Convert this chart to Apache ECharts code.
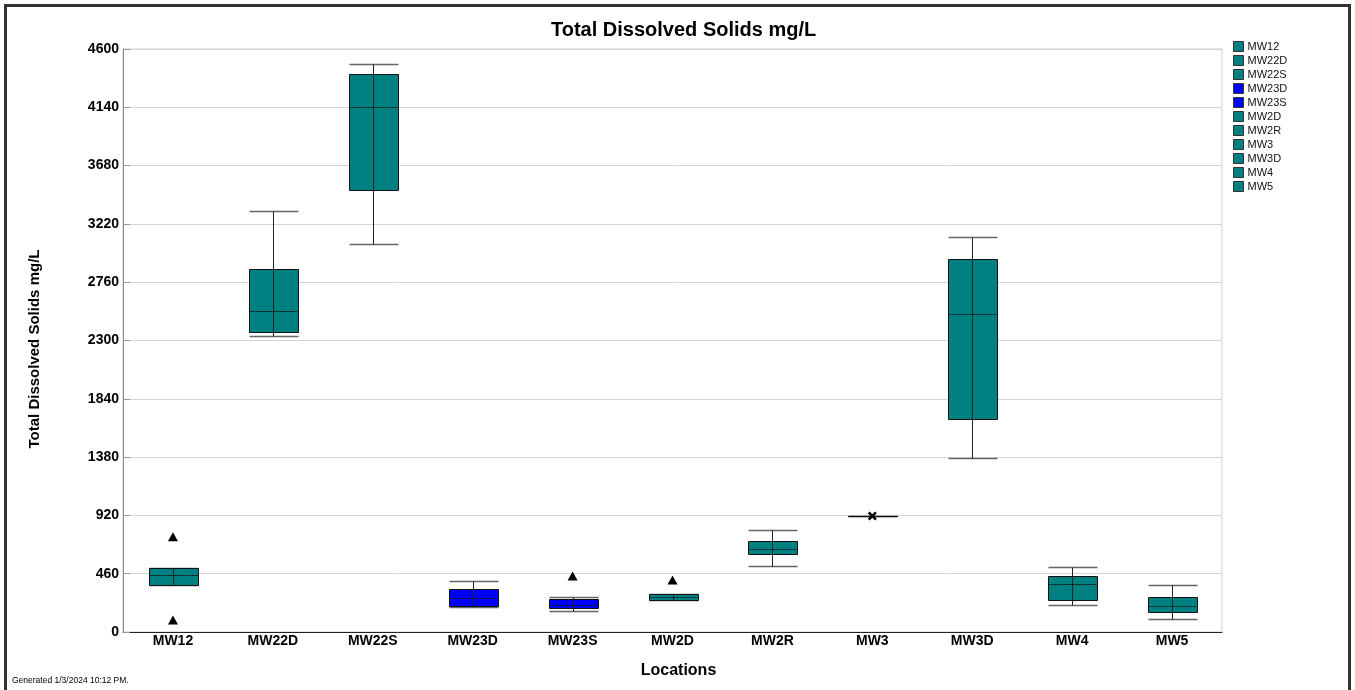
<!DOCTYPE html>
<html>
<head>
<meta charset="utf-8">
<title>Total Dissolved Solids mg/L</title>
<script src="https://cdn.jsdelivr.net/npm/echarts@6/dist/echarts.min.js"></script>
<style>
  html, body { margin: 0; padding: 0; background: #fff; }
  #chart { width: 1355px; height: 690px; }
</style>
</head>
<body>
<div id="chart"></div>
<script>
// Monitoring wells along the x axis
const categories = ['MW12', 'MW22D', 'MW22S', 'MW23D', 'MW23S', 'MW2D', 'MW2R', 'MW3', 'MW3D', 'MW4', 'MW5'];

// Box statistics per well (mg/L)
const lowWhisker  = [371, 2333, 3064, 195, 166, 250, 523, 915, 1373, 211, 103];
const q1          = [371, 2365, 3485, 208, 187, 250, 613, 915, 1678, 250, 155];
const median      = [450, 2533, 4140, 266, 213, 274, 652, 915, 2512, 376, 205];
const q3          = [505, 2862, 4405, 337, 260, 297, 718, 915, 2941, 444, 276];
const highWhisker = [505, 3322, 4481, 405, 274, 297, 802, 915, 3117, 515, 373];

// Outliers (triangles)
const outlierWells  = ['MW12', 'MW12', 'MW23S', 'MW2D'];
const outlierValues = [752, 95, 442, 410];

// Wells with a single observation (cross marker)
const singleWells  = ['MW3'];
const singleValues = [915];

// Y axis ticks
const yMin = 0, yMax = 4600, yStep = 460;

// Fill colours per well
const TEAL = '#008080', BLUE = '#0000ff';
const boxColors = [TEAL, TEAL, TEAL, BLUE, BLUE, TEAL, TEAL, TEAL, TEAL, TEAL, TEAL];

const FONT = 'Arial, "Liberation Sans", sans-serif';

function px(v) { return Math.round(v) + 0.5; }

function renderBox(params, api) {
  const idx = api.value(0);
  const halfW = api.size([1, 0])[0] * 0.25;
  const cx = px(api.coord([idx, 0])[0]);
  const yLow = px(api.coord([idx, api.value(1)])[1]);
  const yQ1 = px(api.coord([idx, api.value(2)])[1]);
  const yMed = px(api.coord([idx, api.value(3)])[1]);
  const yQ3 = px(api.coord([idx, api.value(4)])[1]);
  const yHigh = px(api.coord([idx, api.value(5)])[1]);
  const left = Math.round(cx - halfW) + 0.5;
  const right = Math.round(cx + halfW) + 0.5;
  const fill = api.visual('color');
  return {
    type: 'group',
    children: [
      { type: 'line', shape: { x1: left, y1: yHigh, x2: right, y2: yHigh },
        style: { stroke: '#666', lineWidth: 1.5 } },
      { type: 'line', shape: { x1: left, y1: yLow, x2: right, y2: yLow },
        style: { stroke: '#666', lineWidth: 1.5 } },
      { type: 'rect', shape: { x: left, y: yQ3, width: right - left, height: Math.max(yQ1 - yQ3, 0) },
        style: { fill: fill, stroke: '#111', lineWidth: 1 } },
      { type: 'line', shape: { x1: cx, y1: yHigh, x2: cx, y2: yLow },
        style: { stroke: '#222', lineWidth: 1 } },
      { type: 'line', shape: { x1: left, y1: yMed, x2: right, y2: yMed },
        style: { stroke: '#111', lineWidth: 1, lineDash: [2, 1] } }
    ]
  };
}

const boxSeries = categories.map(function (name, i) {
  return {
    name: name,
    type: 'custom',
    renderItem: renderBox,
    itemStyle: { color: boxColors[i] },
    encode: { x: 0, y: [1, 2, 3, 4, 5] },
    data: [[i, lowWhisker[i], q1[i], median[i], q3[i], highWhisker[i]]],
    z: 3
  };
});

const crossPath = 'path://M0,2 L2,0 L5,3 L8,0 L10,2 L7,5 L10,8 L8,10 L5,7 L2,10 L0,8 L3,5 Z';

const chart = echarts.init(document.getElementById('chart'));
chart.setOption({
  animation: false,
  backgroundColor: '#fff',
  textStyle: { fontFamily: FONT },
  title: {
    text: 'Total Dissolved Solids mg/L',
    left: 546,
    top: 15,
    textStyle: { fontSize: 20, fontWeight: 'bold', color: '#000', fontFamily: FONT }
  },
  legend: {
    orient: 'vertical',
    left: 1233,
    top: 41,
    padding: 0,
    itemWidth: 10,
    itemHeight: 10,
    itemGap: 3,
    icon: 'rect',
    data: categories,
    itemStyle: { borderColor: '#333', borderWidth: 1 },
    textStyle: { fontSize: 11, color: '#111', fontFamily: FONT, padding: [0, 0, 0, -1] },
    selectedMode: false
  },
  grid: {
    left: 123, right: 133, top: 49, bottom: 58,
    show: true, borderColor: '#cfcfcf', borderWidth: 1
  },
  xAxis: {
    type: 'category',
    data: categories,
    boundaryGap: true,
    name: 'Locations',
    nameLocation: 'middle',
    nameGap: 31,
    nameTextStyle: { fontSize: 16, fontWeight: 'bold', color: '#000', fontFamily: FONT, padding: [0, 0, 0, 12] },
    axisLine: { lineStyle: { color: '#222', width: 1 } },
    axisTick: { show: false },
    axisLabel: { fontSize: 14, fontWeight: 'bold', color: '#000', margin: 2, fontFamily: FONT },
    splitLine: { show: false }
  },
  yAxis: {
    type: 'value',
    min: yMin,
    max: yMax,
    interval: yStep,
    axisLine: { show: true, lineStyle: { color: '#888', width: 1 } },
    axisTick: { show: true, inside: true, length: 7, lineStyle: { color: '#999' } },
    axisLabel: {
      fontSize: 14, fontWeight: 'bold', color: '#000', margin: 4, fontFamily: FONT,
      formatter: function (v) { return String(v); }
    },
    splitLine: { show: true, lineStyle: { color: '#d4d4d4', width: 1 } }
  },
  graphic: [
    {
      type: 'rect',
      shape: { x: 5.5, y: 5.5, width: 1344, height: 720 },
      style: { fill: 'none', stroke: '#333', lineWidth: 3 },
      silent: true
    },
    {
      // y axis title, rotated to read bottom-to-top
      type: 'text',
      x: 35,
      y: 349,
      rotation: Math.PI / 2,
      style: {
        text: 'Total Dissolved Solids mg/L',
        fontSize: 15, fontWeight: 'bold', fill: '#000', fontFamily: FONT,
        align: 'center', verticalAlign: 'middle'
      },
      silent: true
    },
    {
      type: 'text',
      left: 12,
      top: 676,
      style: { text: 'Generated 1/3/2024 10:12 PM.', fontSize: 8.5, fill: '#000', fontFamily: FONT },
      silent: true
    }
  ],
  series: boxSeries.concat([
    {
      name: 'Outliers',
      type: 'scatter',
      symbol: 'triangle',
      symbolSize: [10, 9],
      itemStyle: { color: '#000', opacity: 1 },
      data: outlierWells.map(function (w, i) { return [w, outlierValues[i]]; }),
      z: 5
    },
    {
      name: 'Single value',
      type: 'scatter',
      symbol: crossPath,
      symbolSize: 9,
      itemStyle: { color: '#000', opacity: 1 },
      data: singleWells.map(function (w, i) { return [w, singleValues[i]]; }),
      z: 5
    }
  ])
});
</script>
</body>
</html>
